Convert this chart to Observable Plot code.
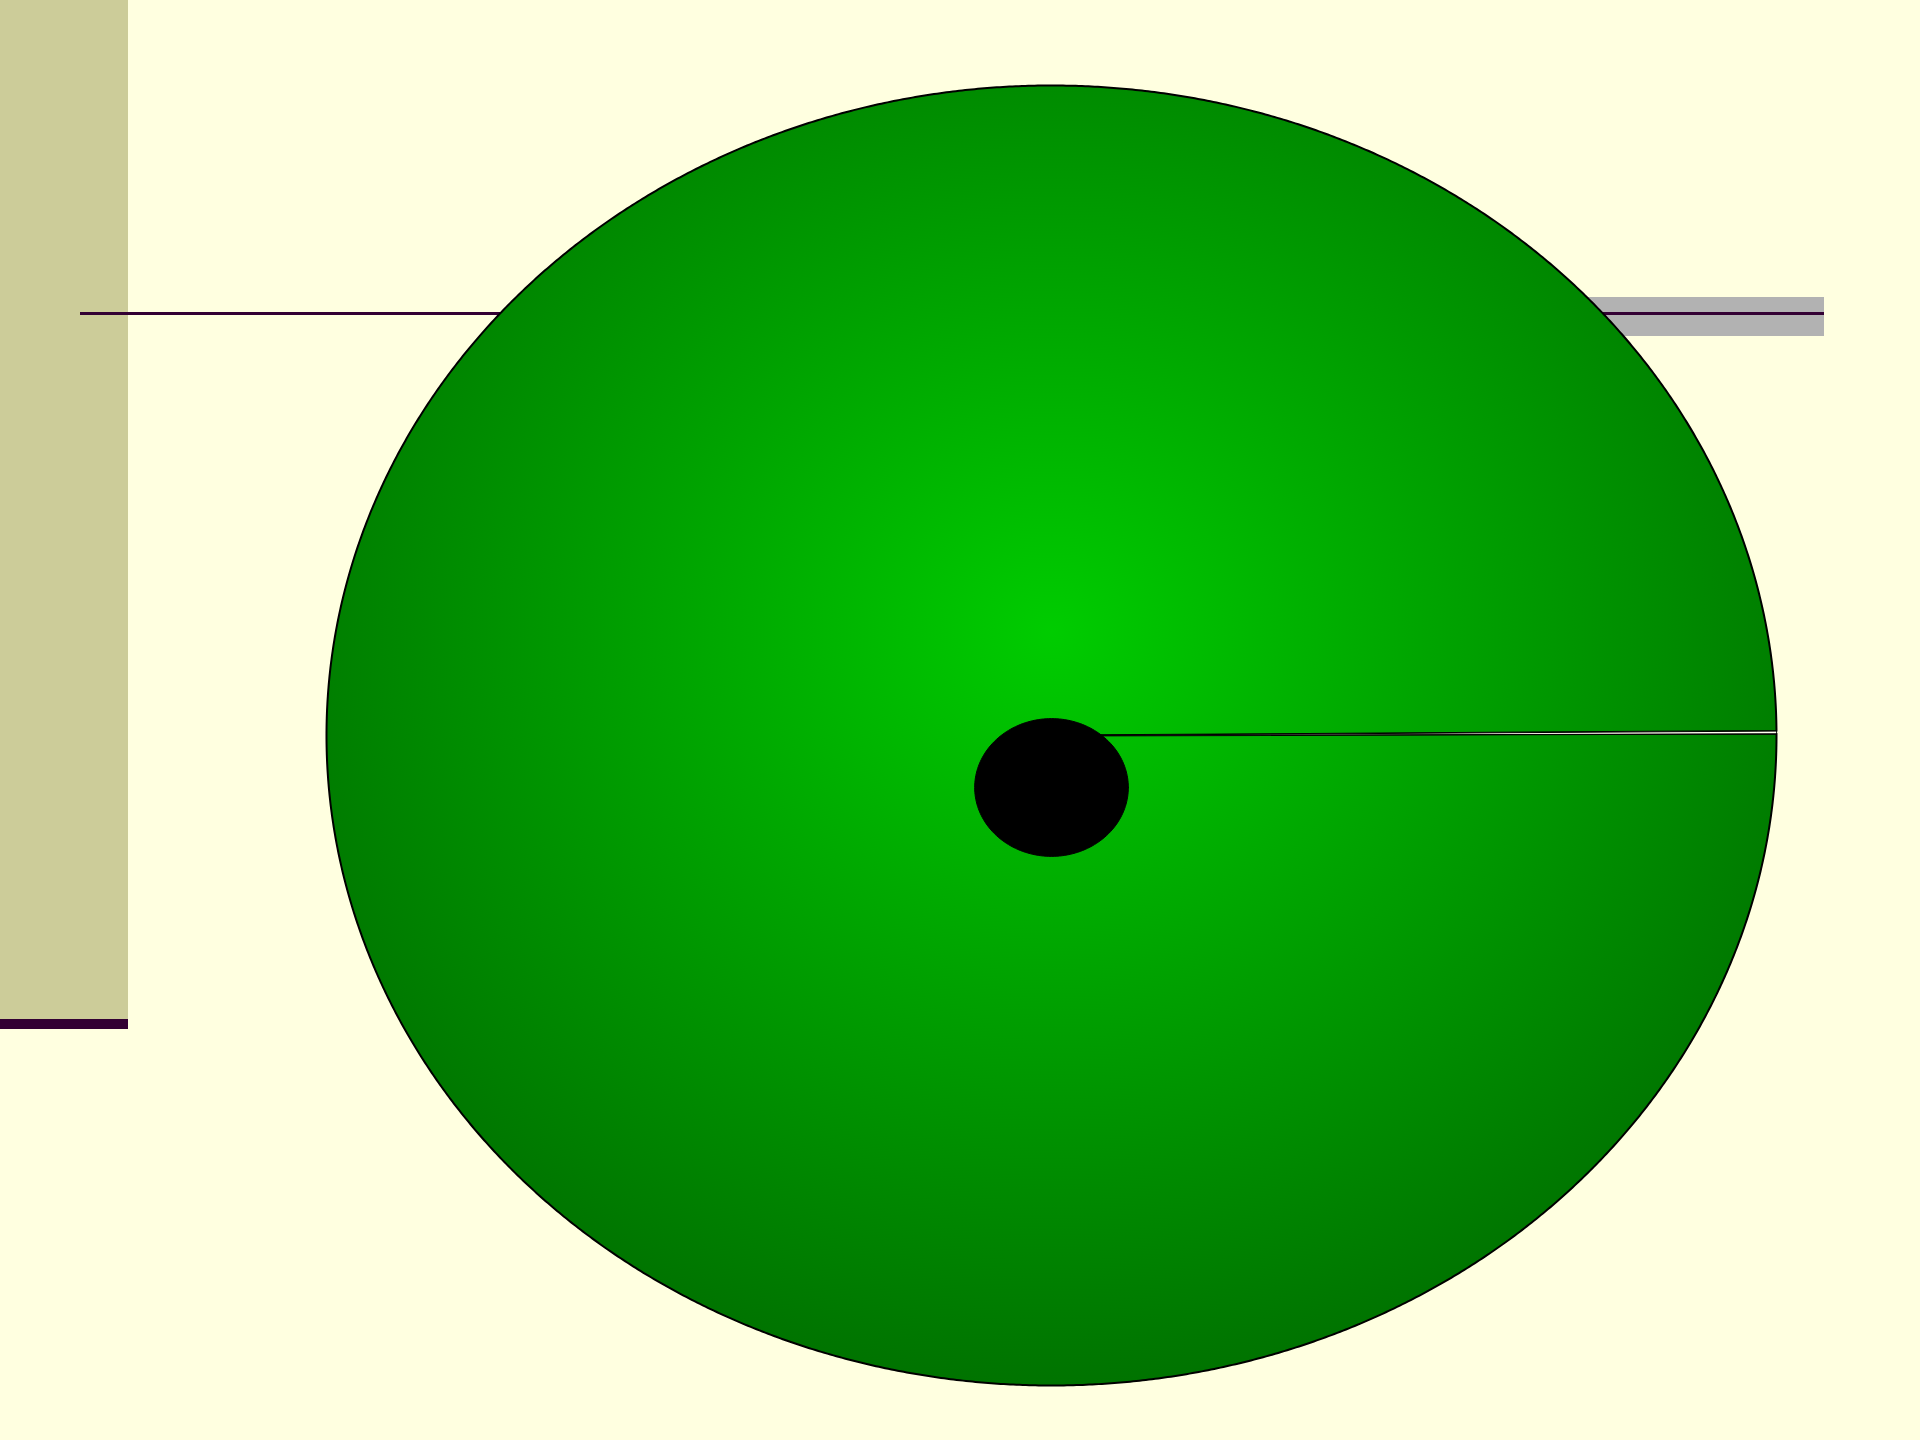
<!DOCTYPE html>
<html>
<head>
<meta charset="utf-8">
<script src="https://cdn.jsdelivr.net/npm/d3@7"></script>
<script src="https://cdn.jsdelivr.net/npm/@observablehq/plot@0.6"></script>
<style>
  html, body { margin: 0; padding: 0; background: #ffffe0; }
  #page { position: relative; width: 1920px; height: 1440px; overflow: hidden; background: #ffffe0; }
  .deco { position: absolute; }
  #chart { position: absolute; left: 0; top: 0; }
</style>
</head>
<body>
<div id="page">
  <div class="deco" style="left:0;top:0;width:128px;height:1019px;background:#cccc99;"></div>
  <div class="deco" style="left:0;top:1019px;width:128px;height:10px;background:#330033;"></div>
  <div class="deco" style="left:1500px;top:297px;width:324px;height:39px;background:#b2b2b2;"></div>
  <div class="deco" style="left:80px;top:312px;width:1744px;height:3px;background:#330033;"></div>
  <div id="chart"></div>
</div>
<script>
// ---- data ----
const categories = ["Slice 1", "Slice 2"];
const values = [0.06, 99.94];
const sliceFills = ["#fffff0", "url(#pieGrad)"];
const holeCenter = [0, -0.08];
const holeRadius = 0.106;

// ---- build slice polygons with d3.pie ----
const pie = d3.pie().sort(null).startAngle(Math.PI / 2 - 0.0068).endAngle(Math.PI / 2 - 0.0068 + 2 * Math.PI);
const arcs = pie(values);
function slicePoints(a, name) {
  const pts = [{x: 0, y: 0, name}];
  const n = Math.max(2, Math.ceil((a.endAngle - a.startAngle) / (2 * Math.PI) * 1440));
  for (let i = 0; i <= n; i++) {
    const t = a.startAngle + (a.endAngle - a.startAngle) * i / n;
    pts.push({x: Math.sin(t), y: Math.cos(t), name});
  }
  return pts;
}
const slices = arcs.map((a, i) => slicePoints(a, categories[i]));
const hole = d3.range(0, 361, 2).map(d => ({
  x: holeCenter[0] + holeRadius * Math.cos(d * Math.PI / 180),
  y: holeCenter[1] + holeRadius * Math.sin(d * Math.PI / 180)
}));

const defsMark = () => {
  const ns = "http://www.w3.org/2000/svg";
  const defs = document.createElementNS(ns, "defs");
  defs.innerHTML = `<radialGradient id="pieGrad" cx="0.5" cy="0.42" r="0.6" fx="0.5" fy="0.42">
      <stop offset="0" stop-color="#00cc00"/>
      <stop offset="1" stop-color="#007000"/>
    </radialGradient>`;
  return defs;
};

const chart = Plot.plot({
  width: 1920,
  height: 1440,
  margin: 0,
  x: {domain: [-1, 1], range: [326, 1776], axis: null},
  y: {domain: [-1, 1], range: [1385, 85], axis: null},
  style: {background: "transparent", overflow: "visible"},
  marks: [
    defsMark,
    Plot.line(slices[1], {x: "x", y: "y", fill: sliceFills[1], stroke: "black", strokeWidth: 2, curve: "linear-closed"}),
    Plot.line(slices[0], {x: "x", y: "y", fill: sliceFills[0], stroke: "black", strokeWidth: 1, curve: "linear-closed"}),
    Plot.line(hole, {x: "x", y: "y", fill: "black", stroke: "black", strokeWidth: 1, curve: "linear-closed"})
  ]
});
document.getElementById("chart").appendChild(chart);
</script>
</body>
</html>
